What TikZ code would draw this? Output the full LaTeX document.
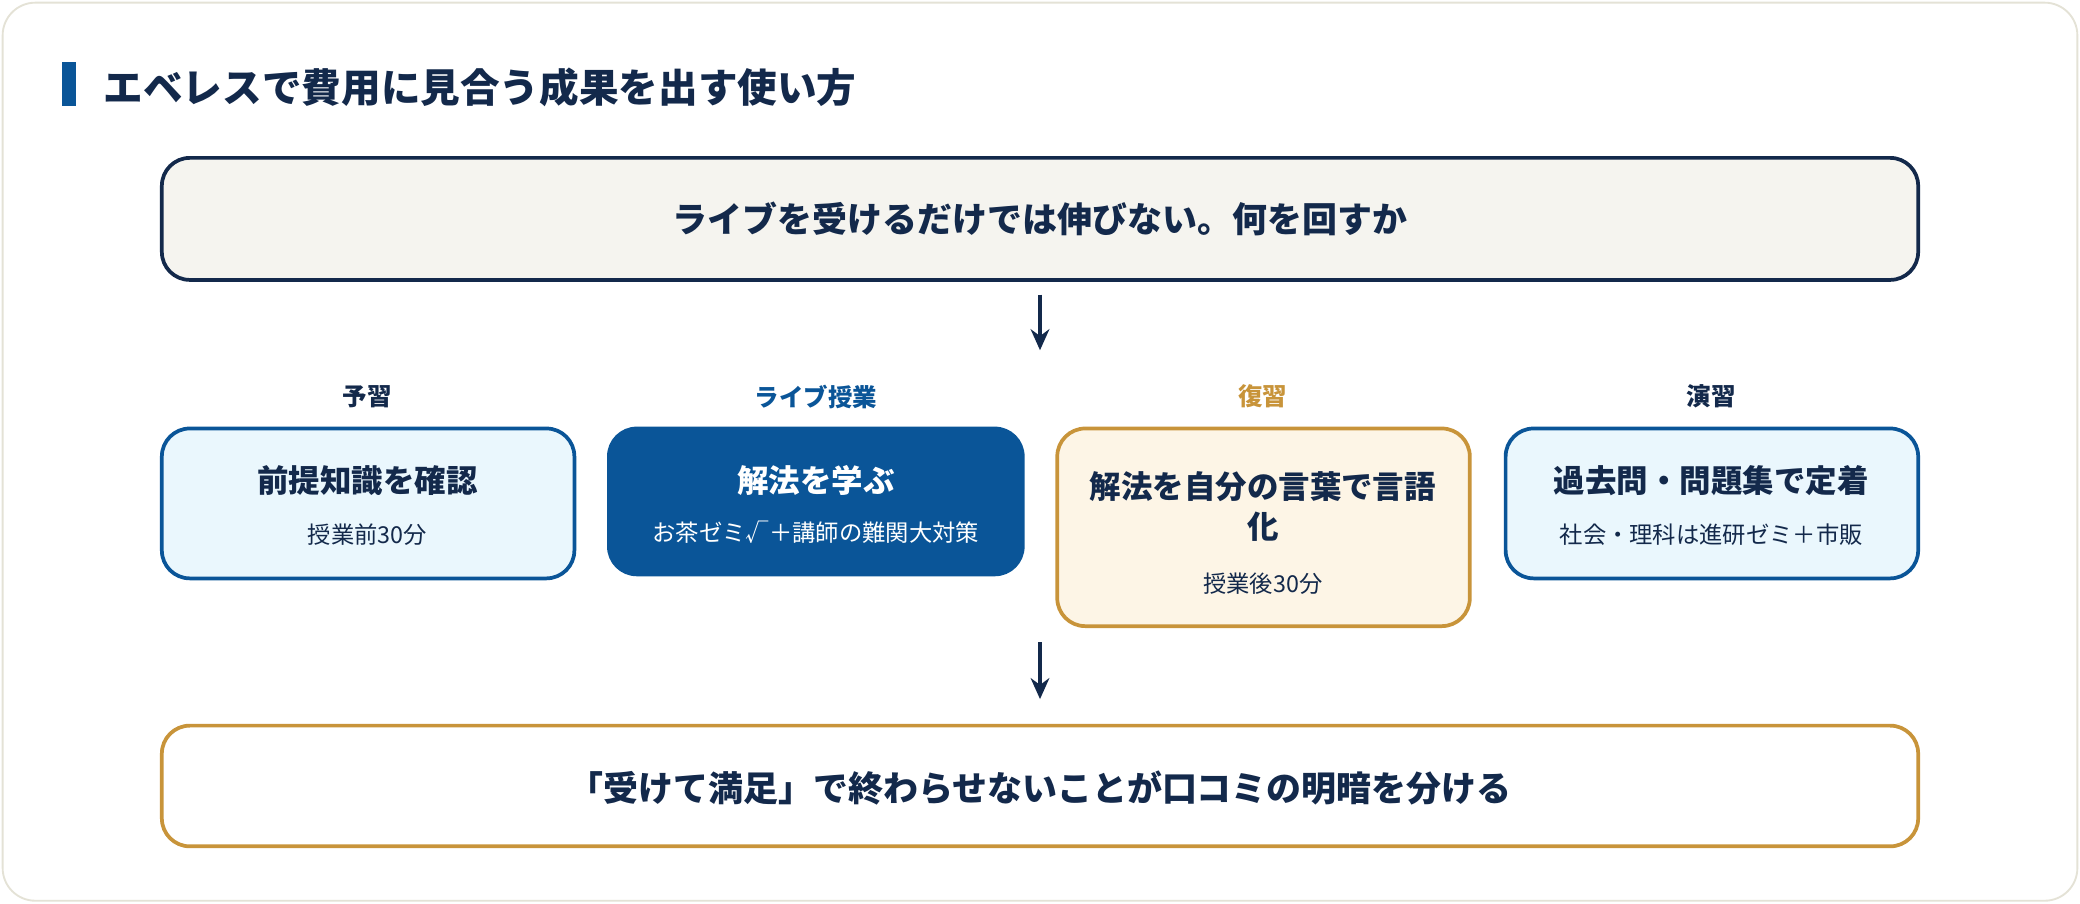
\documentclass[tikz,border=0pt]{standalone}
\usepackage{fontspec}
\setmainfont{Noto Sans CJK JP}
\usetikzlibrary{arrows.meta}
\definecolor{navy}{HTML}{13294B}
\definecolor{eblue}{HTML}{0A5598}
\definecolor{egold}{HTML}{C8943A}
\definecolor{lblue}{HTML}{EAF7FD}
\definecolor{lgold}{HTML}{FDF5E6}
\definecolor{lgray}{HTML}{F5F4EF}
\definecolor{frame}{HTML}{E4E2D6}
\tikzset{
  box/.style={draw, line width=1.6pt, rounded corners=12pt, inner sep=0pt},
  stepbox/.style={box, draw=eblue, fill=lblue},
  arr/.style={-{Stealth[length=9pt,width=8pt]}, line width=1.6pt, draw=navy},
  lab/.style={font=\fontsize{10.5}{12}\selectfont\bfseries},
  ttl/.style={font=\fontsize{13.5}{17}\selectfont\bfseries, text=navy, align=center},
  sub/.style={font=\fontsize{10}{12}\selectfont, text=navy}
}
\begin{document}
\begin{tikzpicture}[x=0.02cm,y=-0.02cm]
            \draw[frame, fill=white, line width=0.8pt, rounded corners=14pt] (2,2) rectangle (1566,679);
            \useasboundingbox (0,0) rectangle (1568,681);
            % title
            \fill[eblue] (47,47) rectangle (57,80);
            \node[anchor=west, text=navy, font=\fontsize{17}{20}\selectfont\bfseries] (title) at (72,66) {エベレスで費用に見合う成果を出す使い方};
            % top box
            \draw[box, draw=navy, fill=lgray] (122,119) rectangle (1446,211);
            \node[ttl, font=\fontsize{15}{18}\selectfont\bfseries] (top) at (784,165) {ライブを受けるだけでは伸びない。何を回すか};
            \coordinate (a1s) at (784,222);
            \coordinate (a1e) at (784,264);
            \draw[arr] (a1s) -- (a1e);
            % labels
            \node[lab, text=navy] (l1) at (277,299) {予習};
            \node[lab, text=eblue] (l2) at (615,299) {ライブ授業};
            \node[lab, text=egold] (l3) at (952,299) {復習};
            \node[lab, text=navy] (l4) at (1290,299) {演習};
            % steps
            \draw[stepbox] (122,323) rectangle (433,436);
            \node[ttl] (s1) at (277,362) {前提知識を確認};
            \node[sub] (s1b) at (277,403) {授業前30分};
            \draw[box, draw=eblue, fill=eblue] (459,323) rectangle (771,433);
            \node[ttl, text=white] (s2) at (615,362) {解法を学ぶ};
            \node[sub, text=white] (s2b) at (615,401) {お茶ゼミ√＋講師の難関大対策};
            \draw[box, draw=egold, fill=lgold] (797,323) rectangle (1108,472);
            \node[ttl] (s3) at (952,382) {解法を自分の言葉で言語\\化};
            \node[sub] (s3b) at (952,440) {授業後30分};
            \draw[stepbox] (1135,323) rectangle (1446,436);
            \node[ttl] (s4) at (1290,362) {過去問・問題集で定着};
            \node[sub] (s4b) at (1290,403) {社会・理科は進研ゼミ＋市販};
            \coordinate (a2s) at (784,484);
            \coordinate (a2e) at (784,527);
            \draw[arr] (a2s) -- (a2e);
            % bottom box
            \draw[box, draw=egold, fill=white] (122,547) rectangle (1446,638);
            \node[ttl, font=\fontsize{15}{18}\selectfont\bfseries] (bot) at (784,594) {「受けて満足」で終わらせないことが口コミの明暗を分ける};
        \end{tikzpicture}
\end{document}
